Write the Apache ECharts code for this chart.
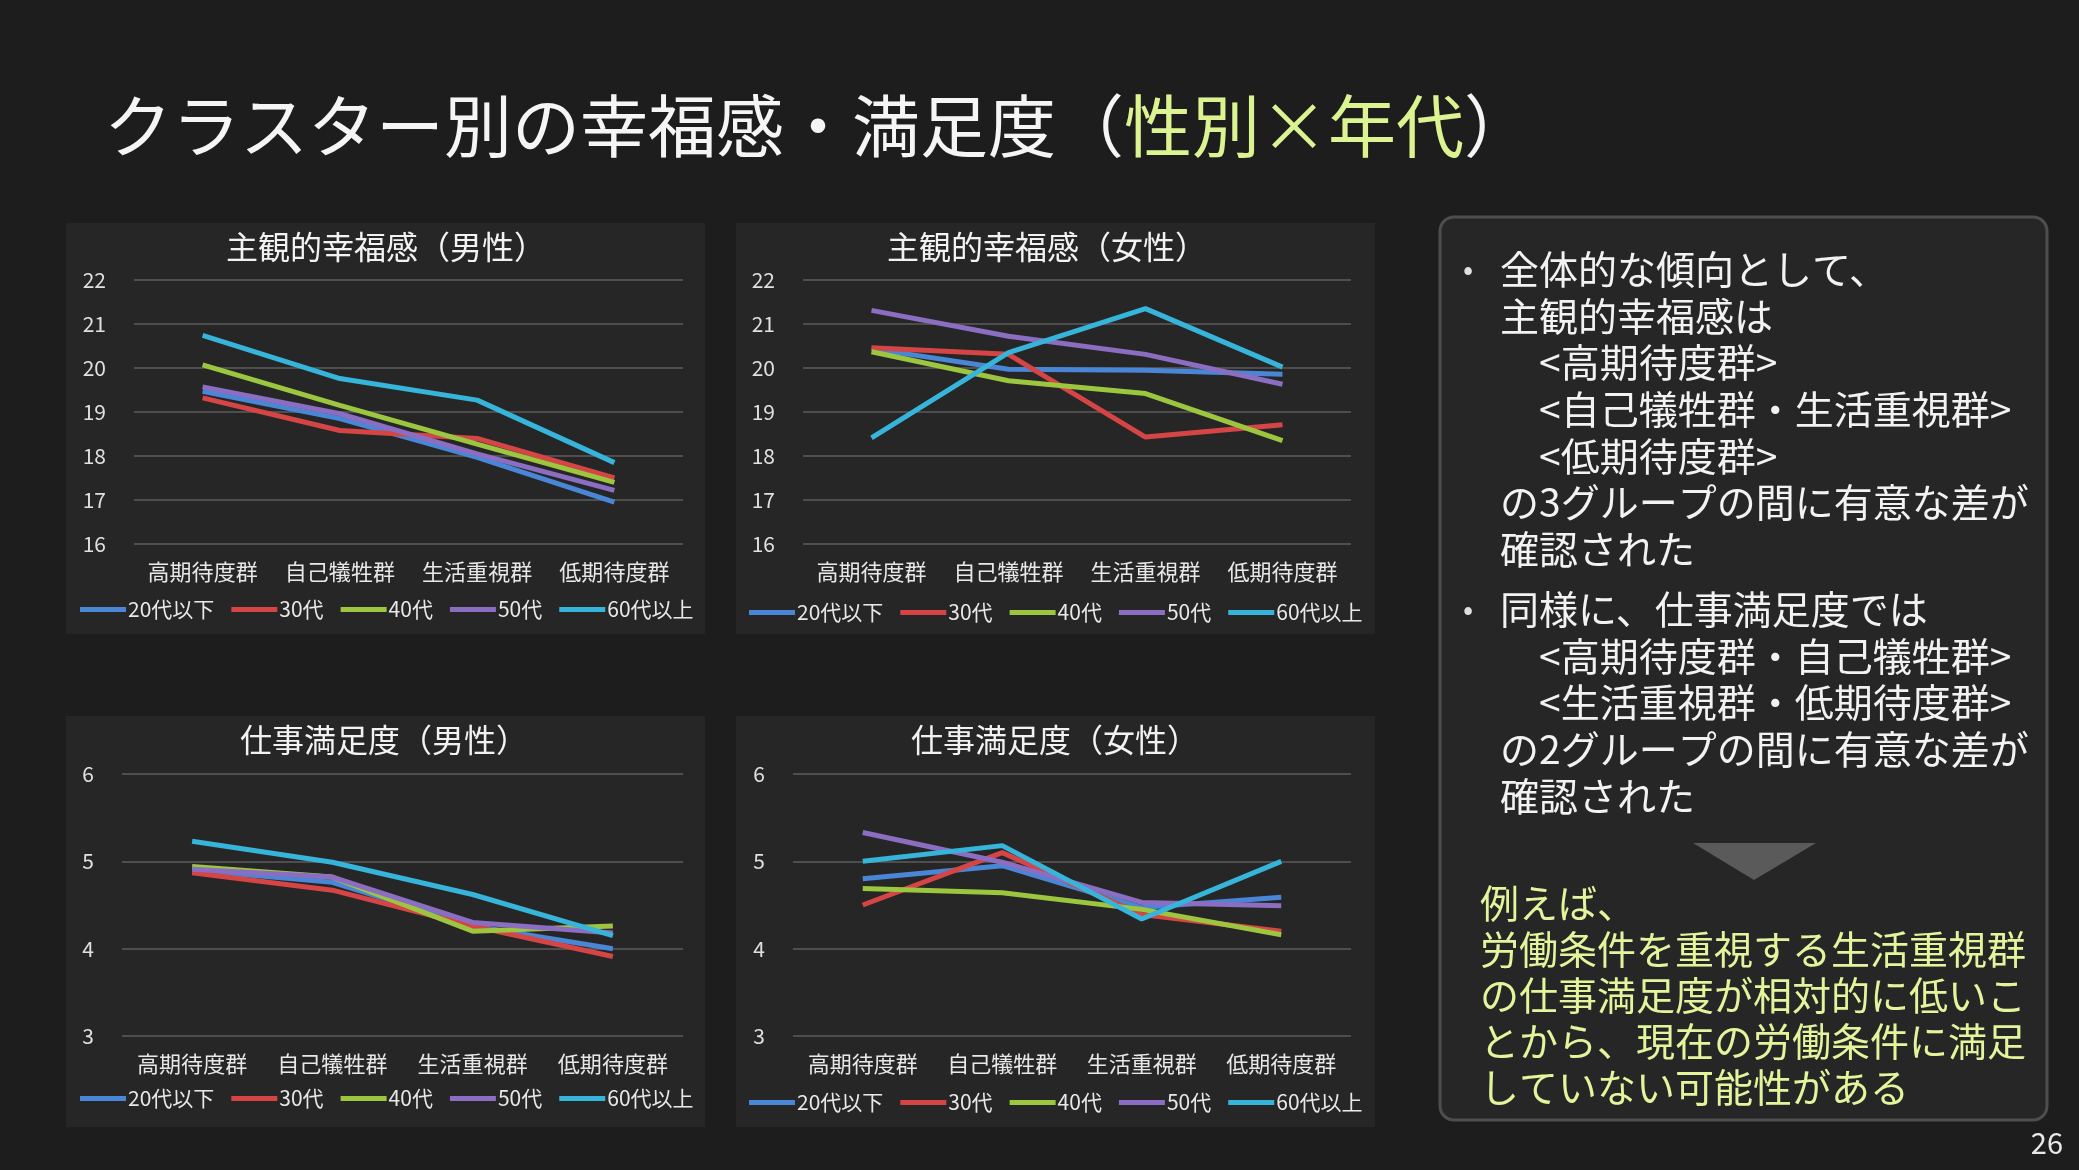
<!DOCTYPE html>
<html>
<head>
<meta charset="utf-8">
<script src="https://cdn.jsdelivr.net/npm/echarts@6/dist/echarts.min.js"></script>
<style>
html, body { margin: 0; padding: 0; background: #1d1d1d; }
#main { width: 2079px; height: 1170px; }
</style>
</head>
<body>
<div id="main"></div>
<script>
var categories = ['高期待度群', '自己犠牲群', '生活重視群', '低期待度群'];
var ageGroups = ['20代以下', '30代', '40代', '50代', '60代以上'];
var ageColors = ['#4a86d6', '#d64545', '#9cc63f', '#8b6dc1', '#37b4d9'];

// rows follow ageGroups, columns follow categories
var happyMale = [
    [19.47, 18.85, 17.97, 16.95],
    [19.32, 18.58, 18.40, 17.50],
    [20.07, 19.15, 18.27, 17.40],
    [19.57, 18.96, 18.05, 17.22],
    [20.74, 19.76, 19.27, 17.85]
];
var happyFemale = [
    [20.44, 19.97, 19.95, 19.86],
    [20.46, 20.31, 18.43, 18.71],
    [20.37, 19.71, 19.42, 18.35],
    [21.31, 20.72, 20.31, 19.63],
    [18.41, 20.35, 21.35, 20.02]
];
var jobMale = [
    [4.90, 4.76, 4.26, 4.00],
    [4.87, 4.67, 4.26, 3.91],
    [4.94, 4.82, 4.20, 4.26],
    [4.91, 4.82, 4.30, 4.18],
    [5.23, 4.99, 4.62, 4.15]
];
var jobFemale = [
    [4.80, 4.95, 4.47, 4.59],
    [4.50, 5.10, 4.39, 4.20],
    [4.69, 4.64, 4.45, 4.16],
    [5.33, 4.99, 4.53, 4.49],
    [5.00, 5.18, 4.34, 5.00]
];
var happyRange = [16, 22];
var jobRange = [3, 6];

var summaryLines = [
    '全体的な傾向として、',
    '主観的幸福感は',
    '　<高期待度群>',
    '　<自己犠牲群・生活重視群>',
    '　<低期待度群>',
    'の3グループの間に有意な差が',
    '確認された'
];
var summaryLines2 = [
    '同様に、仕事満足度では',
    '　<高期待度群・自己犠牲群>',
    '　<生活重視群・低期待度群>',
    'の2グループの間に有意な差が',
    '確認された'
];
var noteLines = [
    '例えば、',
    '労働条件を重視する生活重視群',
    'の仕事満足度が相対的に低いこ',
    'とから、現在の労働条件に満足',
    'していない可能性がある'
];

var FONT = '"Noto Sans CJK JP", "Noto Sans", sans-serif';

var panels = [
    { title: '主観的幸福感（男性）', data: happyMale, range: happyRange,
      box: [66, 223, 639, 411], grid: [134, 280, 549, 264], titleX: 386, titleY: 247, legend: [80, 599] },
    { title: '主観的幸福感（女性）', data: happyFemale, range: happyRange,
      box: [736, 223, 639, 411], grid: [803, 280, 548, 264], titleX: 1047, titleY: 247, legend: [749, 602] },
    { title: '仕事満足度（男性）', data: jobMale, range: jobRange,
      box: [66, 716, 639, 411], grid: [122, 774, 561, 262], titleX: 384, titleY: 740, legend: [80, 1088] },
    { title: '仕事満足度（女性）', data: jobFemale, range: jobRange,
      box: [736, 716, 639, 411], grid: [793, 774, 558, 262], titleX: 1055, titleY: 740, legend: [749, 1092] }
];

var dom = document.getElementById('main');
var myChart = echarts.init(dom);

var grids = [], xAxes = [], yAxes = [], series = [], legends = [], graphics = [];

panels.forEach(function (p, i) {
    graphics.push({
        type: 'rect', z: -10,
        shape: { x: p.box[0], y: p.box[1], width: p.box[2], height: p.box[3] },
        style: { fill: '#262626' }
    });
    graphics.push({
        type: 'text',
        style: { text: p.title, x: p.titleX, y: p.titleY, textAlign: 'center', textVerticalAlign: 'middle',
                 fill: '#f2f2f2', fontSize: 32, fontFamily: FONT }
    });
    grids.push({ left: p.grid[0], top: p.grid[1], width: p.grid[2], height: p.grid[3] });
    xAxes.push({
        type: 'category', gridIndex: i, data: categories, boundaryGap: true,
        axisLine: { show: false }, axisTick: { show: false },
        axisLabel: { color: '#e8e8e8', fontSize: 22, fontFamily: FONT, margin: 17, interval: 0 }
    });
    yAxes.push({
        type: 'value', gridIndex: i, min: p.range[0], max: p.range[1], interval: 1,
        axisLine: { show: false }, axisTick: { show: false },
        axisLabel: { color: '#e0e0e0', fontSize: 21, fontFamily: FONT, margin: 28 },
        splitLine: { lineStyle: { color: '#5c5c5c', width: 1.5 } }
    });
    ageGroups.forEach(function (name, k) {
        series.push({
            type: 'line', name: name, xAxisIndex: i, yAxisIndex: i,
            data: p.data[k], showSymbol: false, symbol: 'none',
            lineStyle: { color: ageColors[k], width: 5 },
            itemStyle: { color: ageColors[k] },
            emphasis: { disabled: true }
        });
    });
    legends.push({
        data: ageGroups, left: p.legend[0], top: p.legend[1], icon: 'rect',
        itemWidth: 46, itemHeight: 5, itemGap: 17, selectedMode: false, padding: 0,
        textStyle: { color: '#e8e8e8', fontSize: 21, fontFamily: FONT, padding: [0, 0, 0, -3] }
    });
});

// summary box
graphics.push({
    type: 'rect', z: -10,
    shape: { x: 1440, y: 217, width: 607, height: 903, r: 14 },
    style: { fill: '#262626', stroke: '#4e4e4e', lineWidth: 3 }
});
function addLines(lines, x, y0, color) {
    lines.forEach(function (t, j) {
        graphics.push({
            type: 'text',
            style: { text: t, x: x, y: y0 + j * 46.7, textVerticalAlign: 'middle',
                     fill: color, fontSize: 39, fontFamily: FONT }
        });
    });
}
graphics.push({ type: 'text', style: { text: '•', x: 1468, y: 269, textAlign: 'center', textVerticalAlign: 'middle',
    fill: '#e0e0e0', fontSize: 30, fontFamily: FONT } });
graphics.push({ type: 'text', style: { text: '•', x: 1468, y: 609, textAlign: 'center', textVerticalAlign: 'middle',
    fill: '#e0e0e0', fontSize: 30, fontFamily: FONT } });
addLines(summaryLines, 1500, 269, '#f2f2f2');
addLines(summaryLines2, 1500, 609, '#f2f2f2');
graphics.push({
    type: 'polygon',
    shape: { points: [[1693, 843], [1816, 843], [1754, 880]] },
    style: { fill: '#5a5a5a' }
});
noteLines.forEach(function (t, j) {
    graphics.push({
        type: 'text',
        style: { text: t, x: 1480, y: 903 + j * 46, textVerticalAlign: 'middle',
                 fill: '#e2f59c', fontSize: 39, fontFamily: FONT }
    });
});
graphics.push({ type: 'text', style: { text: '26', x: 2063, y: 1143, textAlign: 'right', textVerticalAlign: 'middle',
    fill: '#e8e8e8', fontSize: 29, fontFamily: FONT } });

option = {
    backgroundColor: '#1d1d1d',
    animation: false,
    title: {
        left: 104, top: 86, padding: 0,
        text: '{w|クラスター別の幸福感・満足度（}{g|性別×年代}{w|）}',
        textStyle: {
            rich: {
                w: { color: '#f5f5f5', fontSize: 68, fontWeight: 'normal', fontFamily: FONT, lineHeight: 80 },
                g: { color: '#dcf391', fontSize: 68, fontWeight: 'normal', fontFamily: FONT, lineHeight: 80 }
            }
        }
    },
    grid: grids,
    xAxis: xAxes,
    yAxis: yAxes,
    legend: legends,
    series: series,
    graphic: graphics
};
if (option && typeof option === "object") {
    myChart.setOption(option, true);
}
</script>
</body>
</html>
